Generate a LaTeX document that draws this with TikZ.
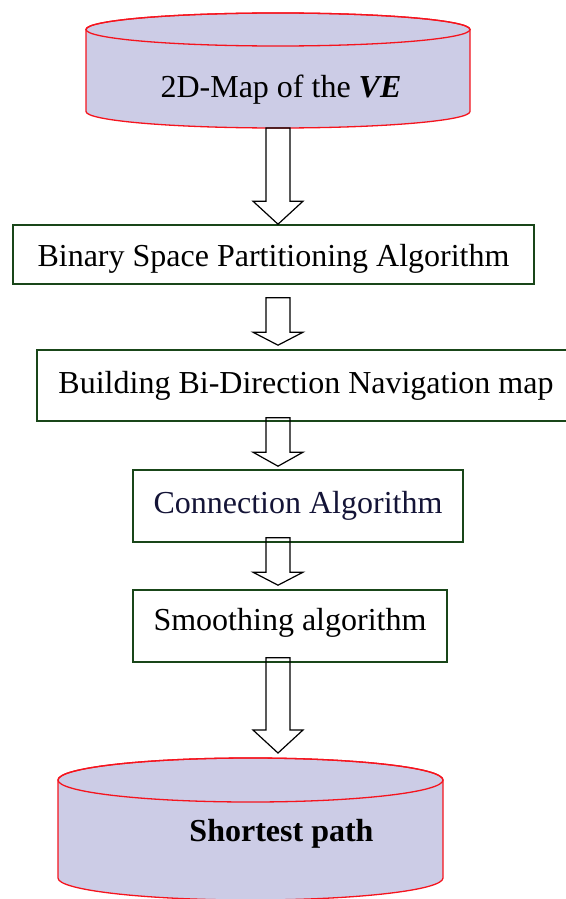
\documentclass[tikz,border=0pt]{standalone}
\usepackage{fontspec}
\setmainfont{Liberation Serif}
\usetikzlibrary{calc}
\definecolor{drumfill}{RGB}{204,204,230}
\definecolor{drumred}{RGB}{245,20,30}
\definecolor{boxgreen}{RGB}{25,70,25}
\definecolor{navyink}{RGB}{20,20,55}
\newcommand{\drum}[5]{%
	\path[drumline] (#1-#4,#2-#5) -- (#1-#4,#3+#5) arc[start angle=180, end angle=360, x radius=#4pt, y radius=#5pt]
		-- (#1+#4,#2-#5) arc[start angle=0, end angle=180, x radius=#4pt, y radius=#5pt] -- cycle;
	\draw[drumred, line width=1.3pt] (#1,#2-#5) ellipse[x radius=#4pt, y radius=#5pt];}
\newcommand{\hollowarrow}[3]{%
	\draw[arrowline] let \p1=#1, \p2=#2 in
		(\x2-12pt,\y1) -- (\x2+12pt,\y1) -- (\x2+12pt,\y2+#3) -- (\x2+25pt,\y2+#3)
		-- (\x2,\y2) -- (\x2-25pt,\y2+#3) -- (\x2-12pt,\y2+#3) -- cycle;}

\begin{document}
\begin{tikzpicture}[x=1pt, y=1pt,
	stepbox/.style={draw=boxgreen, line width=1.6pt, inner sep=0pt, font=\fontsize{32}{38}\selectfont},
	drumtext/.style={inner sep=0pt, anchor=base, font=\fontsize{32}{38}\selectfont},
	drumline/.style={draw=drumred, fill=drumfill, line width=1.3pt},
	arrowline/.style={draw=black, line width=1.2pt, line join=miter}]
	\useasboundingbox (0,0) rectangle (565,-899);
	\coordinate (spine) at (278,0);

	\drum{278}{-13}{-128}{192}{16.5}
	\node[drumtext] (map) at (281,-97) {2D-Map of the \textbf{\textit{VE}}};
	\coordinate (mapbot) at (278,-128);

	\node[stepbox, minimum width=521pt, minimum height=59pt, text height=30pt, text depth=7pt] (bsp) at (273.5,-254.5) {Binary Space Partitioning Algorithm};
	\node[stepbox, minimum width=538pt, minimum height=71pt] (nav) at (306,-385.5) {Building Bi-Direction Navigation map};
	\node[stepbox, minimum width=330pt, minimum height=72pt, text=navyink] (conn) at (298,-506) {Connection Algorithm};
	\node[stepbox, minimum width=314pt, minimum height=72pt, text height=22pt, text depth=14pt] (smooth) at (290,-626) {Smoothing algorithm};

	\drum{250.5}{-758}{-900}{192.5}{22}
	\node[drumtext] (short) at (281.5,-841) {\textbf{Shortest path}};
	\coordinate (shorttop) at (250.5,-758);

	\hollowarrow{(mapbot)}{(bsp.north -| spine)}{23pt}
	\hollowarrow{($(bsp.south -| spine)+(0,-13)$)}{($(nav.north -| spine)+(0,4)$)}{13pt}
	\hollowarrow{($(nav.south -| spine)+(0,4)$)}{($(conn.north -| spine)+(0,3)$)}{14pt}
	\hollowarrow{($(conn.south -| spine)+(0,5)$)}{($(smooth.north -| spine)+(0,4)$)}{13pt}
	\hollowarrow{($(smooth.south -| spine)+(0,5)$)}{($(shorttop -| spine)+(0,5)$)}{23pt}
\end{tikzpicture}
\end{document}
